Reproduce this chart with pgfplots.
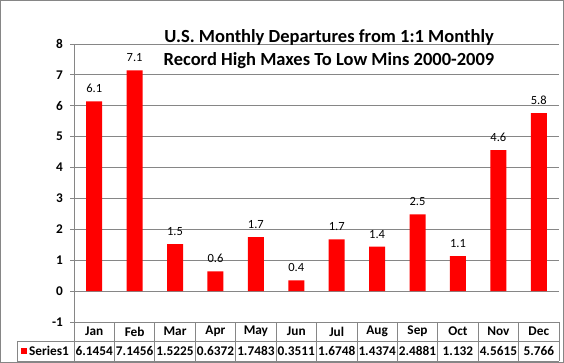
\documentclass[border=0pt]{standalone}
\usepackage{pgfplots}
\pgfplotsset{compat=1.18}
\usepackage{fontspec}
\setmainfont{Carlito}
\definecolor{gridgray}{RGB}{134,134,134}
\definecolor{barred}{RGB}{255,0,0}
\begin{document}
\begin{tikzpicture}[x=1pt,y=1pt]
\useasboundingbox (0,0) rectangle (564,363);
\draw[gridgray, line width=1pt] (0.5,0.5) rectangle (563.5,362.5);
\begin{axis}[
  at={(74pt,41pt)}, anchor=south west,
  scale only axis, width=485pt, height=278pt,
  xmin=-0.5, xmax=11.5, ymin=-1, ymax=8,
  ytick={-1,0,1,2,3,4,5,6,7,8},
  yticklabels={-1,0,1,2,3,4,5,6,7,8},
  xtick=\empty,
  ymajorgrids, grid style={gridgray, line width=0.8pt},
  axis y line=left, axis x line=bottom,
  axis line style={gridgray, -, line width=0.8pt},
  tick style={gridgray, line width=0.8pt},
  major tick length=4pt, tick align=outside,
  yticklabel style={font=\bfseries\fontsize{13.3}{15}\selectfont, xshift=-3.5pt},
  clip=false,
]
\addplot[ybar, bar width=16pt, fill=barred, draw=none,
  nodes near coords={\pgfmathprintnumber[fixed,precision=1,fixed zerofill,assume math mode=true]{\pgfplotspointmeta}},
  point meta=y,
  every node near coord/.append style={font=\fontsize{12.5}{14}\selectfont, anchor=base, yshift=8.5pt, inner sep=0pt}]
coordinates {(0,6.1454) (1,7.1456) (2,1.5225) (3,0.6372) (4,1.7483) (5,0.3511) (6,1.6748) (7,1.4374) (8,2.4881) (9,1.132) (10,4.5615) (11,5.766)};
\end{axis}
\node[anchor=base, font=\bfseries\fontsize{18.5}{22}\selectfont] at (329,320) {U.S. Monthly Departures from 1:1 Monthly};
\node[anchor=base, font=\bfseries\fontsize{18.5}{22}\selectfont] at (329,297) {Record High Maxes To Low Mins 2000-2009};
\draw[gridgray, line width=0.8pt] (17,22) -- (559,22);
\draw[gridgray, line width=0.8pt] (17,2) -- (559,2);
\draw[gridgray, line width=0.8pt] (17,2) -- (17,22);
\foreach \k in {0,...,12} {
  \draw[gridgray, line width=0.8pt] ({74+40.4167*\k},2) -- ({74+40.4167*\k},41);
}
\foreach \m/\v [count=\i from 0] in {Jan/6.1454,Feb/7.1456,Mar/1.5225,Apr/0.6372,May/1.7483,Jun/0.3511,Jul/1.6748,Aug/1.4374,Sep/2.4881,Oct/1.132,Nov/4.5615,Dec/5.766} {
  \node[font=\bfseries\fontsize{13.3}{15}\selectfont] at ({74+40.4167*(\i+0.5)},31.5) {\m};
  \node[font=\bfseries\fontsize{13.3}{15}\selectfont] at ({74+40.4167*(\i+0.5)},12) {\v};
}
\fill[barred] (21,9) rectangle (27,15);
\node[anchor=west, inner sep=1pt, font=\bfseries\fontsize{13.3}{15}\selectfont] at (28,12) {Series1};
\end{tikzpicture}
\end{document}
